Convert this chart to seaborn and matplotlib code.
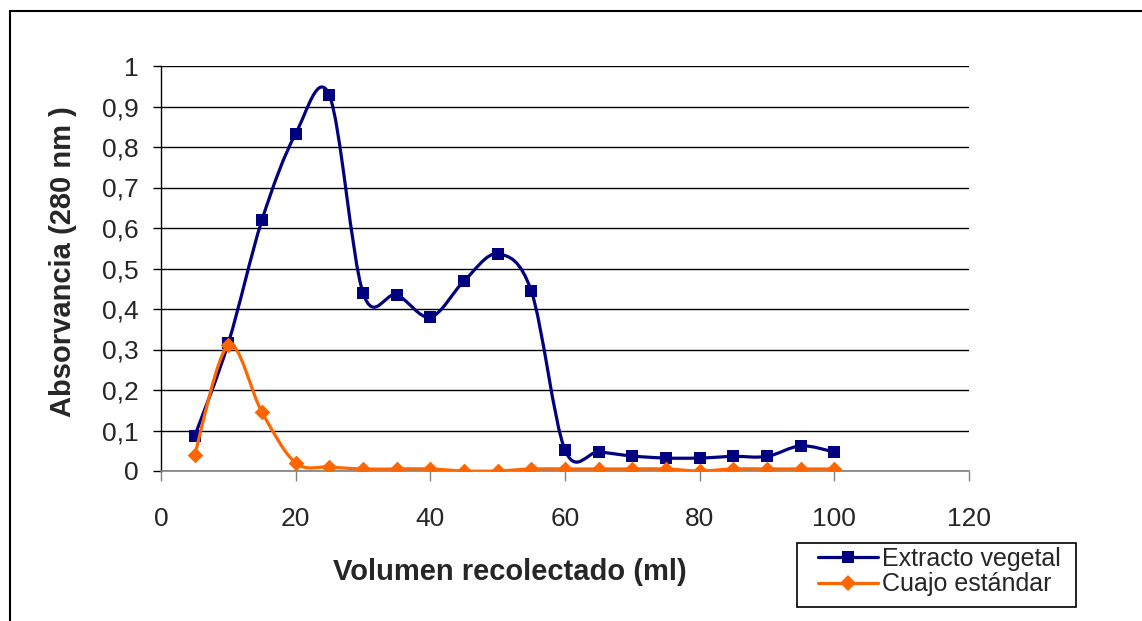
import numpy as np
import pandas as pd
import matplotlib
matplotlib.use("Agg")
import matplotlib.pyplot as plt
from matplotlib.path import Path
from matplotlib.patches import PathPatch, Rectangle
from matplotlib.lines import Line2D
import seaborn as sns

# Fracciones recolectadas (ml) y absorbancia a 280 nm
volumen = [5, 10, 15, 20, 25, 30, 35, 40, 45, 50, 55, 60, 65, 70, 75, 80, 85, 90, 95, 100]
extracto_vegetal = [0.086, 0.316, 0.620, 0.833, 0.928, 0.440, 0.435, 0.380, 0.469, 0.536,
                    0.444, 0.052, 0.047, 0.037, 0.032, 0.032, 0.036, 0.036, 0.062, 0.047]
cuajo_estandar = [0.040, 0.310, 0.145, 0.020, 0.010, 0.005, 0.005, 0.005, 0.000, 0.000,
                  0.005, 0.005, 0.005, 0.005, 0.005, 0.000, 0.005, 0.005, 0.005, 0.005]

x_ticks = [0, 20, 40, 60, 80, 100, 120]
y_ticks = [0, 0.1, 0.2, 0.3, 0.4, 0.5, 0.6, 0.7, 0.8, 0.9, 1.0]
y_tick_labels = ["0", "0,1", "0,2", "0,3", "0,4", "0,5", "0,6", "0,7", "0,8", "0,9", "1"]

series_names = ["Extracto vegetal", "Cuajo estándar"]
colors = ["#000080", "#FF6600"]

sns.set_style("white")
plt.rcParams["font.family"] = ["Liberation Sans", "DejaVu Sans"]

W, H = 1142, 621
fig = plt.figure(figsize=(W / 100, H / 100), dpi=100)
ax = fig.add_axes([161 / W, 1 - 471 / H, 808 / W, 405 / H])


def smooth_path(x, y):
    """Smoothed line through the points using cubic Bezier segments."""
    pts = np.column_stack([x, y]).astype(float)
    n = len(pts)
    verts = [pts[0]]
    codes = [Path.MOVETO]
    for i in range(n - 1):
        p0 = pts[i - 1] if i > 0 else pts[i]
        p1 = pts[i]
        p2 = pts[i + 1]
        p3 = pts[i + 2] if i + 2 < n else pts[i + 1]
        verts += [p1 + (p2 - p0) / 6, p2 - (p3 - p1) / 6, p2]
        codes += [Path.CURVE4] * 3
    return Path(verts, codes)


df = pd.DataFrame({
    "volumen": volumen * 2,
    "abs": extracto_vegetal + cuajo_estandar,
    "serie": [series_names[0]] * len(volumen) + [series_names[1]] * len(volumen),
})

LW = 2.3
SQ = 8.8
DM = 8.0

# Blue series first, orange drawn on top
ax.add_patch(PathPatch(smooth_path(volumen, extracto_vegetal), fill=False,
                       edgecolor=colors[0], lw=LW, zorder=3, capstyle="round", joinstyle="round"))
sns.scatterplot(data=df[df.serie == series_names[0]], x="volumen", y="abs", ax=ax,
                marker="s", s=SQ ** 2, color=colors[0], edgecolor=colors[0], linewidth=0,
                zorder=4, legend=False)
ax.add_patch(PathPatch(smooth_path(volumen, cuajo_estandar), fill=False,
                       edgecolor=colors[1], lw=LW, zorder=5, capstyle="round", joinstyle="round"))
sns.scatterplot(data=df[df.serie == series_names[1]], x="volumen", y="abs", ax=ax,
                marker="D", s=DM ** 2, color=colors[1], edgecolor=colors[1], linewidth=0,
                zorder=6, legend=False)

ax.set_xlim(0, 120)
ax.set_ylim(0, 1)
ax.set_xticks(x_ticks)
ax.set_xticklabels([str(v) for v in x_ticks])
ax.set_yticks(y_ticks)
ax.set_yticklabels(y_tick_labels)
ax.set_xlabel("")
ax.set_ylabel("")

ax.yaxis.grid(True, color="black", lw=1)
ax.xaxis.grid(False)
ax.set_axisbelow(True)
for side in ["top", "right"]:
    ax.spines[side].set_visible(False)
ax.spines["left"].set_color("black")
ax.spines["left"].set_linewidth(1)
ax.spines["bottom"].set_color("#808080")
ax.spines["bottom"].set_linewidth(1.2)

ax.tick_params(axis="y", direction="out", length=6, width=1, color="black",
               labelsize=19, pad=10, left=True)
ax.tick_params(axis="x", direction="out", length=7, width=1, color="#808080",
               labelsize=19, pad=19, bottom=True)

fig.text(510 / W, 1 - 572 / H, "Volumen recolectado (ml)", ha="center", va="center",
         fontsize=21, fontweight="bold")
fig.text(63 / W, 1 - 262 / H, "Absorvancia (280 nm )", ha="center", va="center",
         rotation=90, fontsize=21, fontweight="bold")

handles = [
    Line2D([], [], color=colors[0], lw=LW, marker="s", markersize=SQ, markeredgewidth=0),
    Line2D([], [], color=colors[1], lw=LW, marker="D", markersize=DM, markeredgewidth=0),
]
leg = fig.legend(handles, series_names, loc="upper left",
                 bbox_to_anchor=(818 / W, 1 - 547 / H), bbox_transform=fig.transFigure,
                 borderaxespad=0, frameon=False, fontsize=18,
                 handlelength=2.4, handletextpad=0.15, labelspacing=0.05, borderpad=0.0)

# Legend box
fig.patches.append(Rectangle((797 / W, 1 - 607 / H), 279 / W, 64 / H, transform=fig.transFigure,
                             fill=False, edgecolor="black", lw=1.2, zorder=10))

# Outer chart border
fig.patches.append(Rectangle((10 / W, -0.1), 2, 1.1 - 11 / H, transform=fig.transFigure,
                             fill=False, edgecolor="black", lw=1.5, zorder=0))

fig.savefig("out.png", dpi=100)
